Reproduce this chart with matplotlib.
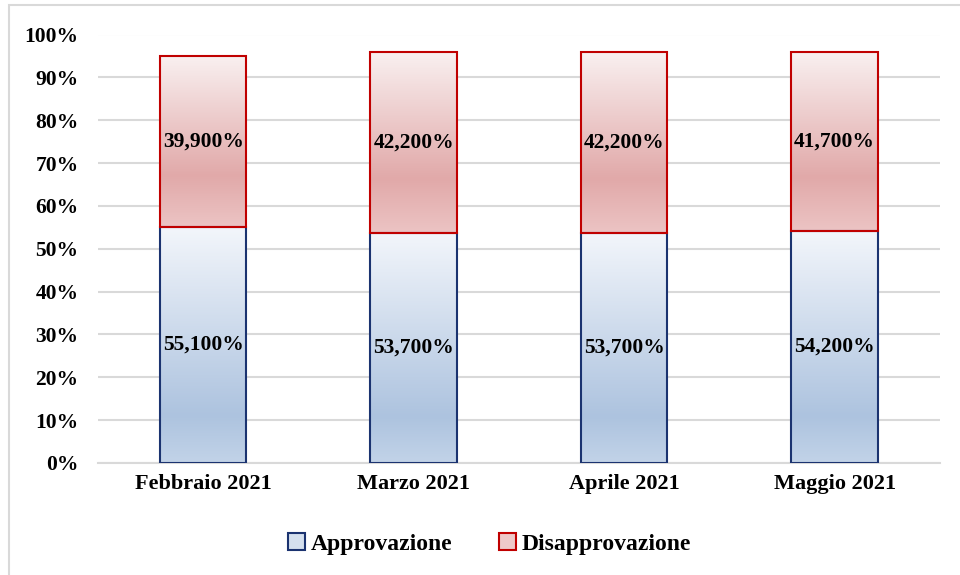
import numpy as np
import matplotlib.pyplot as plt
from matplotlib.colors import LinearSegmentedColormap
from matplotlib.patches import Rectangle, Patch

months = ['Febbraio 2021', 'Marzo 2021', 'Aprile 2021', 'Maggio 2021']
approvazione = [55.1, 53.7, 53.7, 54.2]
disapprovazione = [39.9, 42.2, 42.2, 41.7]
labels_appr = ['55,100%', '53,700%', '53,700%', '54,200%']
labels_dis = ['39,900%', '42,200%', '42,200%', '41,700%']

plt.rcParams['font.family'] = ['Liberation Serif', 'DejaVu Serif']
plt.rcParams['font.weight'] = 'bold'

fig = plt.figure(figsize=(9.6, 5.75), dpi=100)
ax = fig.add_axes([0.102, 0.195, 0.877, 0.745])

# gradients, top -> bottom
blue_cmap = LinearSegmentedColormap.from_list(
    'b', [(0, '#f3f6fb'), (0.8, '#adc3df'), (1, '#c2d3e8')])
red_cmap = LinearSegmentedColormap.from_list(
    'r', [(0, '#f9f0f0'), (0.7, '#e1a9a9'), (1, '#ecc4c4')])
grad = np.linspace(0, 1, 256).reshape(-1, 1)

x = np.arange(len(months))
width = 0.41

b1 = ax.bar(x, approvazione, width, facecolor='none', edgecolor='#1b3370', linewidth=1.5, zorder=3)
b2 = ax.bar(x, disapprovazione, width, bottom=approvazione, facecolor='none',
            edgecolor='#c00000', linewidth=1.5, zorder=4)

for bars, cmap in [(b1, blue_cmap), (b2, red_cmap)]:
    for bar in bars:
        x0, y0 = bar.get_x(), bar.get_y()
        w, h = bar.get_width(), bar.get_height()
        im = ax.imshow(grad, cmap=cmap, aspect='auto', extent=[x0, x0 + w, y0, y0 + h],
                       origin='upper', zorder=2, interpolation='bilinear')
        im.set_clip_path(Rectangle((x0, y0), w, h, transform=ax.transData))

for i in x:
    ax.text(i, approvazione[i] / 2, labels_appr[i], ha='center', va='center',
            fontsize=15.5, fontweight='bold', zorder=5)
    ax.text(i, approvazione[i] + disapprovazione[i] / 2, labels_dis[i], ha='center',
            va='center', fontsize=15.5, fontweight='bold', zorder=5)

ax.set_xlim(-0.5, len(months) - 0.5)
ax.set_ylim(0, 100)
ax.set_yticks(np.arange(0, 101, 10))
ax.set_yticklabels([f'{v}%' for v in range(0, 101, 10)], fontsize=15.5, fontweight='bold')
ax.set_xticks(x)
ax.set_xticklabels(months, fontsize=16, fontweight='bold')
ax.tick_params(length=0, pad=8)
ax.tick_params(axis='y', pad=14)
ax.grid(axis='y', color='#d9d9d9', linewidth=1.5, zorder=0)
ax.set_axisbelow(True)
for s in ['top', 'right', 'left']:
    ax.spines[s].set_visible(False)
ax.spines['bottom'].set_color('#d9d9d9')
ax.spines['bottom'].set_linewidth(1.5)

handles = [Patch(facecolor='#d5e0ee', edgecolor='#1b3370', linewidth=1.5, label='Approvazione'),
           Patch(facecolor='#eec9c9', edgecolor='#c00000', linewidth=1.5, label='Disapprovazione')]
fig.legend(handles=handles, loc='center', bbox_to_anchor=(0.51, 0.054), ncol=2, frameon=False,
           prop={'size': 17, 'weight': 'bold'}, handlelength=0.7, handleheight=0.7,
           handletextpad=0.25, columnspacing=2.0)

fig.patches.append(Rectangle((0.009, -0.05), 1.1, 1.041, transform=fig.transFigure,
                             fill=False, edgecolor='#d9d9d9', linewidth=1.5))

plt.savefig('out.png', dpi=100)
